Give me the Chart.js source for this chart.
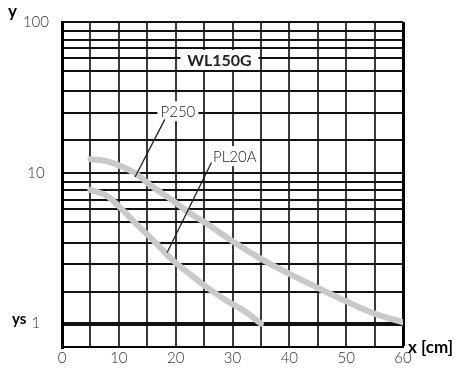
<!DOCTYPE html>
<html>
<head>
<meta charset="utf-8">
<script src="https://cdn.jsdelivr.net/npm/chart.js@4/dist/chart.umd.min.js"></script>
<style>
  html, body { margin: 0; padding: 0; background: #fff; }
  #wrap { width: 455px; height: 371px; }
</style>
</head>
<body>
<div id="wrap"><canvas id="chart" width="455" height="371"></canvas></div>
<script>
// Curve data (x in cm, y on log scale)
const p250X = [5, 8, 10, 13, 15.5, 19.6, 22.5, 25.5, 29.6, 35.4, 40.1, 45.1, 50.1, 55.1, 60];
const p250Y = [12.3, 11.9, 11.2, 9.9, 8.3, 6.5, 5.4, 4.6, 3.6, 2.64, 2.13, 1.72, 1.40, 1.16, 1.02];
const pl20aX = [5, 8, 10.2, 13.1, 16.1, 19.6, 22.5, 25.5, 29, 32.3, 35];
const pl20aY = [7.7, 7.0, 5.9, 4.57, 3.55, 2.61, 2.13, 1.74, 1.42, 1.2, 1.0];

// Horizontal grid lines as drawn in the reference (not a regular log grid)
const yGridValues = [1, 1.63, 2.49, 3.45, 4.75, 5.74, 6.64, 7.66, 8.69, 10,
  16.4, 24.9, 34.7, 47.0, 57.5, 66.9, 76.1, 87.2, 100];
const yLabelValues = [1, 10, 100];
const xLabelValues = [0, 10, 20, 30, 40, 50, 60];

// Text notes in data units
const notes = [
  { text: 'WL150G', x: 27.7, y: 56, bold: true, size: 16, boxW: 78, boxH: 20 },
  { text: 'P250', x: 20.4, y: 25.6, bold: false, size: 15, boxW: 41, boxH: 20, line: [[18.1, 22.6], [12.85, 9.38]] },
  { text: 'PL20A', x: 30.4, y: 12.9, bold: false, size: 15, boxW: 46, boxH: 20, line: [[26.3, 11.7], [18.5, 2.96]] }
];

const toPoints = (xs, ys) => xs.map((x, i) => ({ x: x, y: ys[i] }));
const curveColor = '#c9c9c9';
const tickFont = { family: 'Lato, "Open Sans", sans-serif', size: 15, weight: '300' };

const notesPlugin = {
  id: 'notes',
  afterDatasetsDraw(chart) {
    const ctx = chart.ctx;
    const xs = chart.scales.x;
    const ys = chart.scales.y;
    ctx.save();
    notes.forEach(n => {
      const cx = xs.getPixelForValue(n.x);
      const cy = ys.getPixelForValue(n.y);
      ctx.fillStyle = '#fff';
      ctx.fillRect(cx - n.boxW / 2, cy - n.boxH / 2, n.boxW, n.boxH);
      ctx.fillStyle = '#222';
      ctx.font = (n.bold ? 'bold ' : '300 ') + n.size + 'px Lato, "Open Sans", sans-serif';
      ctx.textAlign = 'center';
      ctx.textBaseline = 'middle';
      ctx.fillText(n.text, cx, cy + 1);
      if (n.line) {
        ctx.strokeStyle = '#222';
        ctx.lineWidth = 1.3;
        ctx.beginPath();
        ctx.moveTo(xs.getPixelForValue(n.line[0][0]), ys.getPixelForValue(n.line[0][1]));
        ctx.lineTo(xs.getPixelForValue(n.line[1][0]), ys.getPixelForValue(n.line[1][1]));
        ctx.stroke();
      }
    });

    // axis names
    ctx.fillStyle = '#000';
    ctx.textAlign = 'left';
    ctx.textBaseline = 'middle';
    ctx.font = 'bold 17px Lato, "Open Sans", sans-serif';
    ctx.fillText('y', 8, 12);
    ctx.font = 'bold 15px Lato, "Open Sans", sans-serif';
    ctx.fillText('ys', 12, ys.getPixelForValue(1) - 4);
    ctx.font = 'bold 17px Lato, "Open Sans", sans-serif';
    ctx.fillText('x [cm]', xs.right + 5, xs.top + 1);
    ctx.restore();
  }
};

new Chart(document.getElementById('chart'), {
  type: 'line',
  data: {
    datasets: [
      {
        label: 'P250',
        data: toPoints(p250X, p250Y),
        borderColor: curveColor,
        borderWidth: 6,
        borderCapStyle: 'round',
        pointRadius: 0,
        cubicInterpolationMode: 'monotone',
        fill: false
      },
      {
        label: 'PL20A',
        data: toPoints(pl20aX, pl20aY),
        borderColor: curveColor,
        borderWidth: 6,
        borderCapStyle: 'round',
        pointRadius: 0,
        cubicInterpolationMode: 'monotone',
        fill: false
      }
    ]
  },
  options: {
    responsive: false,
    animation: false,
    layout: { padding: { top: 20, right: 52, left: 0, bottom: 0 } },
    plugins: {
      legend: { display: false },
      tooltip: { enabled: false }
    },
    scales: {
      x: {
        type: 'linear',
        min: 0,
        max: 60,
        afterFit: scale => { scale.height = 24; },
        ticks: {
          stepSize: 5,
          autoSkip: false,
          maxRotation: 0,
          padding: 2,
          color: '#333',
          font: tickFont,
          callback: v => xLabelValues.includes(v) ? String(v) : ''
        },
        grid: {
          drawTicks: false,
          color: ctx => (ctx.tick && ctx.tick.value === 60) ? '#000' : '#3a3a3a',
          lineWidth: ctx => (ctx.tick && ctx.tick.value === 60) ? 3 : 2
        },
        border: { display: true, color: '#000', width: 2 }
      },
      y: {
        type: 'logarithmic',
        min: 0.7,
        max: 100,
        afterFit: scale => { scale.width = 62; },
        afterBuildTicks: scale => {
          scale.ticks = yGridValues.map(v => ({ value: v }));
        },
        ticks: {
          autoSkip: false,
          padding: 13,
          crossAlign: 'center',
          color: '#333',
          font: tickFont,
          callback: v => yLabelValues.includes(v) ? String(v) : ''
        },
        grid: {
          drawTicks: false,
          color: '#111',
          lineWidth: ctx => (ctx.tick && ctx.tick.value === 1) ? 4 : 2
        },
        border: { display: true, color: '#000', width: 3 }
      }
    }
  },
  plugins: [notesPlugin]
});
</script>
</body>
</html>
